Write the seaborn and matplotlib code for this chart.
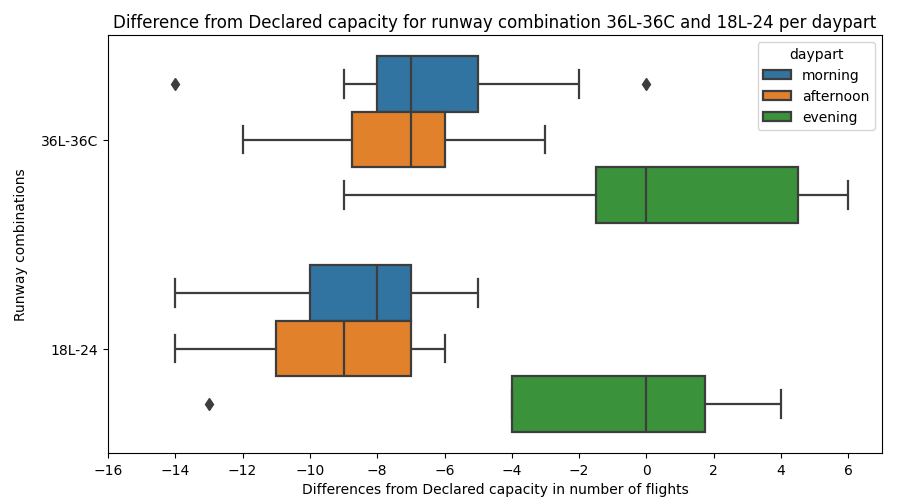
import numpy as np
import pandas as pd
import matplotlib
matplotlib.use("Agg")
import matplotlib.pyplot as plt
import seaborn as sns

combos = ["36L-36C", "18L-24"]
dayparts = ["morning", "afternoon", "evening"]

# Differences from declared capacity (flights), per combination and daypart
c36_morning = [-14, -9, -8, -7, -7, -5, -5, -2, 0]
c36_afternoon = [-12, -10, -9, -8, -7, -7, -6, -6, -4, -3]
c36_evening = [-9, -5, -2, 0, 0, 0, 3, 5, 6, 6]
c18_morning = [-14, -11, -10, -9, -8, -7, -7, -6, -5]
c18_afternoon = [-14, -12, -11, -10, -9, -8, -7, -7, -6]
c18_evening = [-13, -4, -4, -4, 0, 0, 1, 2, 3, 4]

groups = {
    ("36L-36C", "morning"): c36_morning,
    ("36L-36C", "afternoon"): c36_afternoon,
    ("36L-36C", "evening"): c36_evening,
    ("18L-24", "morning"): c18_morning,
    ("18L-24", "afternoon"): c18_afternoon,
    ("18L-24", "evening"): c18_evening,
}
rows = []
for (combo, dp), vals in groups.items():
    for v in vals:
        rows.append({"combination": combo, "daypart": dp, "diff": v})
df = pd.DataFrame(rows)

plt.rcParams["font.family"] = ["DejaVu Sans"]
fig = plt.figure(figsize=(9.24, 5.02), dpi=100)
ax = fig.add_axes([108 / 924, 1 - 454 / 502, (882 - 108) / 924, (454 - 36) / 502])

palette = ["#1f77b4", "#ff7f0e", "#2ca02c"]
sns.boxplot(data=df, x="diff", y="combination", hue="daypart",
            order=combos, hue_order=dayparts, palette=palette,
            saturation=0.75, orient="h", linewidth=1.6, linecolor="#3d3d3d",
            flierprops=dict(marker="d", markerfacecolor="#3d3d3d",
                            markeredgecolor="#3d3d3d", markersize=6),
            ax=ax)

ax.set_xlim(-16, 7)
ax.set_xticks(np.arange(-16, 7, 2))
ax.tick_params(labelsize=10)
ax.set_title("Difference from Declared capacity for runway combination 36L-36C and 18L-24 per daypart",
             fontsize=12)
ax.set_xlabel("Differences from Declared capacity in number of flights", fontsize=10)
ax.set_ylabel("Runway combinations", fontsize=10, labelpad=9)
leg = ax.legend(title="daypart", loc="upper right", fontsize=10, title_fontsize=10)

fig.savefig("out.png", dpi=100)
